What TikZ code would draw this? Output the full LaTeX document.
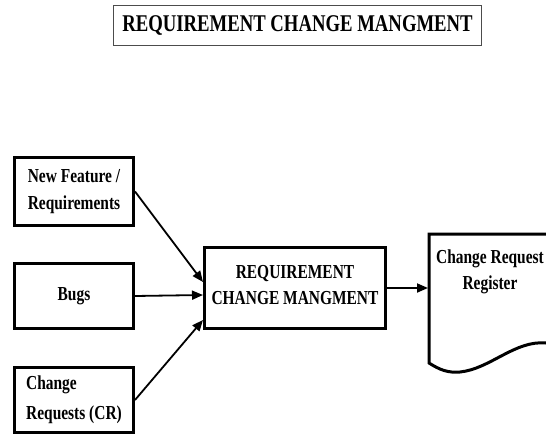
\documentclass[tikz,border=0pt]{standalone}
\usepackage{fontspec}
\newfontfamily\tnr[FakeStretch=0.78]{Liberation Serif}
\usetikzlibrary{arrows.meta}
\begin{document}
\begin{tikzpicture}[x=1pt,y=-1pt,
  lbl/.style={font=\tnr\bfseries\fontsize{19.8}{26.5}\selectfont},
  srcbox/.style={draw, line width=3pt, minimum width=119pt, minimum height=65pt,
                 inner sep=0pt, lbl, align=center},
  flow/.style={line width=1.8pt, -{Triangle[length=11pt,width=9pt]}}]
\useasboundingbox (0,0) rectangle (546,436);

% heading
\node[draw=black!70, line width=1.4pt, minimum width=368pt, minimum height=40pt,
      inner sep=0pt, font=\tnr\bfseries\fontsize{24}{26}\selectfont]
  (title) at (297.5,25.5) {REQUIREMENT CHANGE MANGMENT};

% sources of change
\node[srcbox, minimum height=68pt] (feat) at (74,191.5) {New Feature /\\Requirements};
\node[srcbox] (bugs) at (74,296) {Bugs};
\node[srcbox, align=left, font=\tnr\bfseries\fontsize{19.8}{30}\selectfont]
  (cr) at (74,400) {Change\\Requests (CR)};

% central process, extra text depth lifts the label a little
\node[draw, line width=3pt, minimum width=181pt, minimum height=81pt,
      inner sep=0pt, text depth=6pt, lbl, align=center] (rcm) at (295,288)
  {REQUIREMENT\\CHANGE MANGMENT};

% change request register (document shape running off the right edge)
\draw[line width=3pt] (546,234) -- (429,234) -- (429,363)
  .. controls (440,370) and (448,373) .. (460,372)
  .. controls (490,369) and (515,340) .. (546,343);
\node[lbl, align=center] (reg) at (490,272) {Change Request\\Register};
\coordinate (regin) at (428,288);

% connectors
\draw[flow] (feat.east) -- ([yshift=6pt]rcm.west);
\draw[flow] (bugs.east) -- ([yshift=-7pt]rcm.west);
\draw[flow] (cr.east) -- ([yshift=-32pt]rcm.west);
\draw[flow] (rcm.east) -- (regin);
\end{tikzpicture}
\end{document}
